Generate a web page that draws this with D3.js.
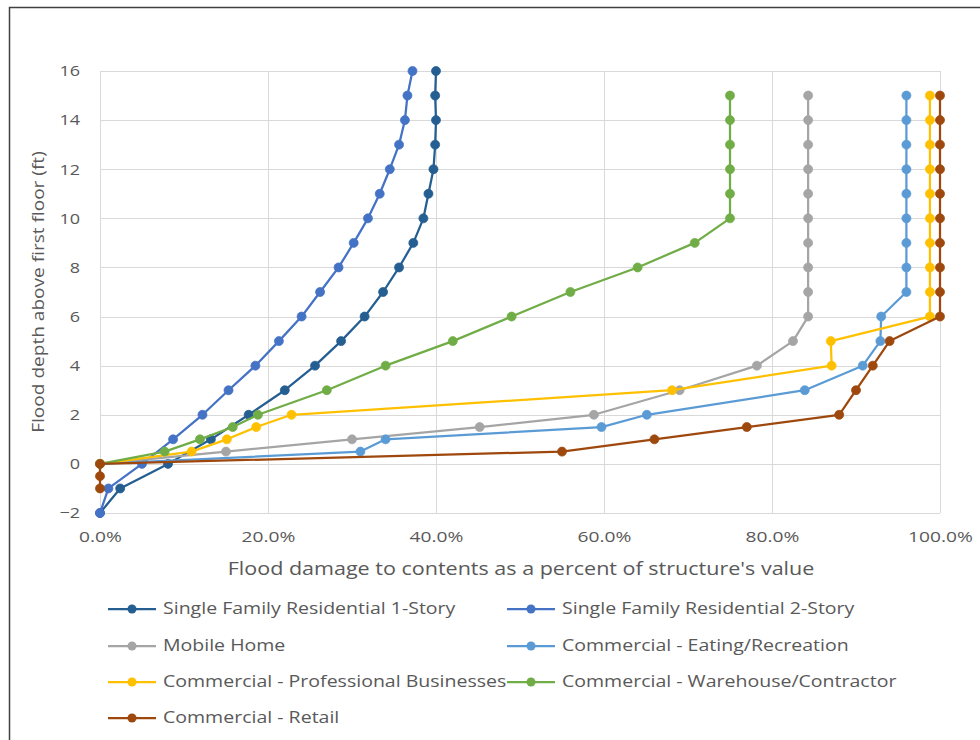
<!DOCTYPE html>
<html>
<head>
<meta charset="utf-8">
<script src="https://cdn.jsdelivr.net/npm/d3@7"></script>
<style>
  html, body { margin: 0; padding: 0; background: #fff; }
  svg { display: block; font-family: "Open Sans", "Noto Sans", sans-serif; }
</style>
</head>
<body>
<svg id="chart" width="980" height="740"></svg>
<script>
// Depth (ft) steps used by each family of curves
const depthsResidential = [-2, -1, 0, 1, 2, 3, 4, 5, 6, 7, 8, 9, 10, 11, 12, 13, 14, 15, 16];
const depthsCommercial  = [0, 0.5, 1, 1.5, 2, 3, 4, 5, 6, 7, 8, 9, 10, 11, 12, 13, 14, 15];
const depthsRetail      = [-1, -0.5, 0, 0.5, 1, 1.5, 2, 3, 4, 5, 6, 7, 8, 9, 10, 11, 12, 13, 14, 15];

// Contents damage, % of structure value
const sf1Story     = [0, 2.4, 8.1, 13.2, 17.7, 22.0, 25.6, 28.7, 31.5, 33.7, 35.6, 37.3, 38.5, 39.1, 39.7, 39.9, 40.0, 39.9, 40.0];
const sf2Story     = [0, 1.0, 5.0, 8.7, 12.2, 15.3, 18.5, 21.3, 24.0, 26.2, 28.4, 30.2, 31.9, 33.3, 34.5, 35.6, 36.3, 36.6, 37.2];
const mobileHome   = [0, 15.0, 30.0, 45.2, 58.8, 69.0, 78.2, 82.5, 84.3, 84.3, 84.3, 84.3, 84.3, 84.3, 84.3, 84.3, 84.3, 84.3];
const eatingRec    = [0, 31.0, 34.0, 59.7, 65.1, 83.9, 90.8, 92.9, 93.0, 96.0, 96.0, 96.0, 96.0, 96.0, 96.0, 96.0, 96.0, 96.0];
const professional = [0, 10.9, 15.1, 18.6, 22.8, 68.1, 87.1, 87.0, 98.8, 98.8, 98.8, 98.8, 98.8, 98.8, 98.8, 98.8, 98.8, 98.8];
const warehouse    = [0, 7.7, 11.9, 15.8, 18.8, 27.0, 34.0, 42.0, 49.0, 56.0, 64.0, 70.8, 75.0, 75.0, 75.0, 75.0, 75.0, 75.0];
const retail       = [0, 0, 0, 55.0, 66.0, 77.0, 88.0, 90.0, 92.0, 94.0, 100, 100, 100, 100, 100, 100, 100, 100, 100, 100];

const seriesNames = [
  "Single Family Residential 1-Story",
  "Single Family Residential 2-Story",
  "Mobile Home",
  "Commercial - Eating/Recreation",
  "Commercial - Professional Businesses",
  "Commercial - Warehouse/Contractor",
  "Commercial - Retail"
];
const seriesColors = ["#255E91", "#4472C4", "#A5A5A5", "#5B9BD5", "#FFC000", "#70AD47", "#9E480E"];
const seriesValues = [sf1Story, sf2Story, mobileHome, eatingRec, professional, warehouse, retail];
const seriesDepths = [depthsResidential, depthsResidential, depthsCommercial, depthsCommercial,
                      depthsCommercial, depthsCommercial, depthsRetail];

const xTicks = [0, 20, 40, 60, 80, 100];
const yTicks = [-2, 0, 2, 4, 6, 8, 10, 12, 14, 16];

const xTitle = "Flood damage to contents as a percent of structure's value";
const yTitle = "Flood depth above first floor (ft)";

const svg = d3.select("#chart");
const plot = { left: 100, right: 940, top: 71, bottom: 513 };

const x = d3.scaleLinear().domain([0, 100]).range([plot.left, plot.right]);
const y = d3.scaleLinear().domain([-2, 16]).range([plot.bottom, plot.top]);

// widen glyphs horizontally around each text's own anchor point
function widen(sel, k, extra = "") {
  sel.each(function () {
    const t = d3.select(this);
    const tx = +t.attr("x") || 0, ty = +t.attr("y") || 0;
    t.attr("x", 0).attr("y", 0)
      .attr("transform", `translate(${tx},${ty}) ${extra} scale(${k},1)`);
  });
}

svg.append("rect").attr("width", 980).attr("height", 740).attr("fill", "#fff");

// outer frame of the chart object
svg.append("rect")
  .attr("x", 9.5).attr("y", 7.5).attr("width", 1000).attr("height", 1000)
  .attr("fill", "none").attr("stroke", "#404040").attr("stroke-width", 1.5);

// gridlines
const grid = svg.append("g").attr("stroke", "#D9D9D9").attr("stroke-width", 1);
grid.selectAll("line.h").data(yTicks).join("line")
  .attr("x1", plot.left).attr("x2", plot.right)
  .attr("y1", d => Math.round(y(d)) + 0.5).attr("y2", d => Math.round(y(d)) + 0.5);
grid.selectAll("line.v").data(xTicks).join("line")
  .attr("y1", plot.top).attr("y2", plot.bottom)
  .attr("x1", d => Math.round(x(d)) + 0.5).attr("x2", d => Math.round(x(d)) + 0.5);

// axes (labels only, Excel style)
const xAxis = d3.axisBottom(x).tickValues(xTicks).tickSize(0).tickPadding(0)
  .tickFormat(d => d.toFixed(1) + "%");
const gx = svg.append("g").attr("transform", `translate(0,${plot.bottom + 18})`).call(xAxis);
gx.select(".domain").remove();
gx.selectAll("text").attr("fill", "#595959").attr("font-size", 15)
  .attr("font-family", "'Open Sans', sans-serif").attr("dy", "0.75em");
widen(gx.selectAll("text"), 1.28);

const yAxis = d3.axisLeft(y).tickValues(yTicks).tickSize(0).tickPadding(0);
const gy = svg.append("g").attr("transform", `translate(${plot.left - 20},0)`).call(yAxis);
gy.select(".domain").remove();
gy.selectAll("text").attr("fill", "#595959").attr("font-size", 15)
  .attr("font-family", "'Open Sans', sans-serif");
widen(gy.selectAll("text"), 1.2);

// axis titles
const xt = svg.append("text")
  .attr("x", 521).attr("y", 575)
  .attr("text-anchor", "middle").attr("fill", "#595959").attr("font-size", 17.5)
  .text(xTitle);
widen(xt, 1.23);
const yt = svg.append("text")
  .attr("x", 44).attr("y", 292)
  .attr("text-anchor", "middle").attr("fill", "#595959").attr("font-size", 15.5)
  .text(yTitle);
widen(yt, 1.23, "rotate(-90)");

// series lines and markers
const line = d3.line().x(d => x(d.v)).y(d => y(d.d));
seriesNames.forEach((name, i) => {
  const pts = seriesValues[i].map((v, j) => ({ v, d: seriesDepths[i][j] }));
  const g = svg.append("g").attr("class", "series");
  g.append("path").datum(pts)
    .attr("d", line).attr("fill", "none")
    .attr("stroke", seriesColors[i]).attr("stroke-width", 2.25)
    .attr("stroke-linejoin", "round");
  g.selectAll("circle").data(pts).join("circle")
    .attr("cx", d => x(d.v)).attr("cy", d => y(d.d)).attr("r", 4.5)
    .attr("fill", seriesColors[i]).attr("stroke", seriesColors[i]).attr("stroke-width", 0.75);
});

// legend: two columns
const legend = svg.append("g");
const legendCols = [108, 507];
const legendRows = [609, 646, 682, 718];
seriesNames.forEach((name, i) => {
  const cx = legendCols[i % 2];
  const cy = legendRows[Math.floor(i / 2)];
  const g = legend.append("g").attr("transform", `translate(${cx},${cy})`);
  g.append("line").attr("x1", 0).attr("x2", 48).attr("y1", 0).attr("y2", 0)
    .attr("stroke", seriesColors[i]).attr("stroke-width", 2.25);
  g.append("circle").attr("cx", 24).attr("cy", 0).attr("r", 4.5).attr("fill", seriesColors[i]);
  const t = g.append("text").attr("x", 55).attr("y", 0).attr("dy", "0.35em")
    .attr("fill", "#595959").attr("font-size", 15.5).text(name);
  widen(t, 1.26);
});
</script>
</body>
</html>
